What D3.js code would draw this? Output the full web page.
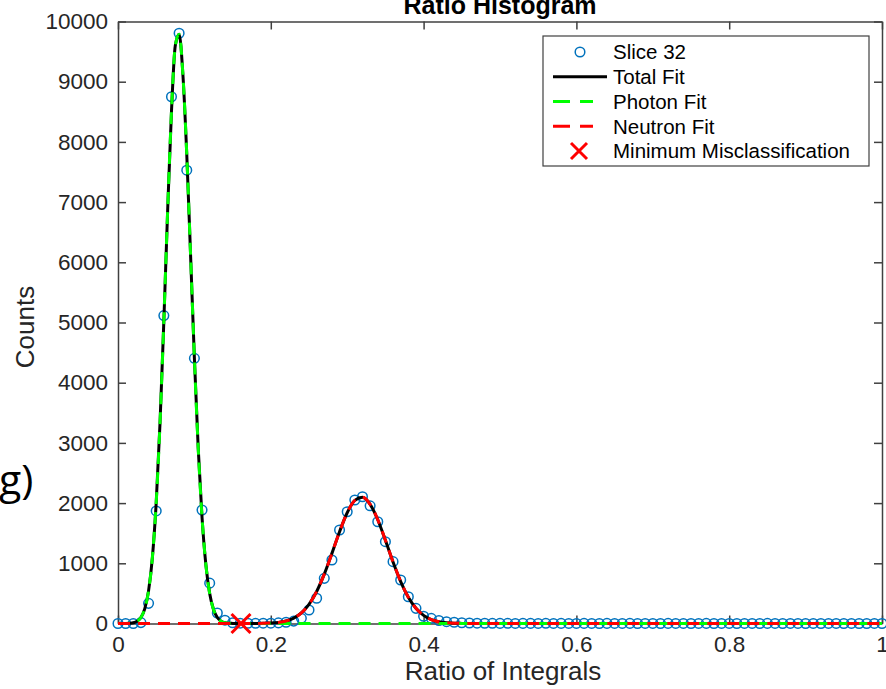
<!DOCTYPE html>
<html>
<head>
<meta charset="utf-8">
<script src="https://cdn.jsdelivr.net/npm/d3@7"></script>
<style>
  body { margin: 0; background: white; }
  svg { display: block; }
</style>
</head>
<body>
<div id="chart"></div>
<script>
var width = 886;
var height = 689;

// histogram bins (bin centres) and counts for slice 32
var binStep = 0.01;
var sliceCounts = [
    0, 0, 0, 15, 335, 1870, 5115, 8750, 9805, 7530,
    4405, 1885, 670, 175, 55, 12, 5, 4, 3, 5,
    5, 10, 20, 40, 86, 224, 419, 750, 1055, 1553,
    1857, 2051, 2106, 1955, 1691, 1359, 1027, 723, 445, 252,
    120, 86, 50, 30, 20, 12, 8, 5, 4, 3,
    2, 3, 1, 2, 2, 1, 3, 1, 2, 1,
    1, 2, 1, 0, 2, 1, 1, 2, 0, 1,
    1, 0, 2, 1, 1, 0, 1, 2, 0, 1,
    1, 0, 1, 1, 0, 2, 1, 0, 1, 1,
    0, 1, 0, 1, 1, 0, 1, 0, 0, 1,
    0
];
var binCenters = sliceCounts.map((d, i) => i * binStep);

// photon fit, read at 0.005 steps from 0 to 0.2
var photonStart = 0;
var photonStep = 0.005;
var photonFit = [
    0, 0, 1, 4, 12, 37, 99, 243, 542, 1096,
    2006, 3330, 5024, 6865, 8507, 9600, 9790, 9107, 7795, 6118,
    4403, 2908, 1761, 978, 498, 233, 100, 39, 14, 5,
    2, 1, 0, 0, 0, 0, 0, 0, 0, 0,
    0
];

// neutron fit, read at 0.01 steps from 0.15 to 0.5
var neutronStart = 0.15;
var neutronStep = 0.01;
var neutronFit = [
    0, 0, 0, 1, 3, 7, 18, 42, 89, 176,
    318, 532, 820, 1165, 1525, 1840, 2046, 2097, 1980, 1724,
    1382, 1022, 697, 437, 253, 135, 66, 30, 13, 5,
    2, 1, 0, 0, 0, 0
];

// minimum misclassification point
var minMisclass = [{x: 0.161, y: 0}];

var xTicks = [0, 0.2, 0.4, 0.6, 0.8, 1];
var yTicks = [0, 1000, 2000, 3000, 4000, 5000, 6000, 7000, 8000, 9000, 10000];

var legendLabels = ["Slice 32", "Total Fit", "Photon Fit", "Neutron Fit", "Minimum Misclassification"];

var plotLeft = 118;
var plotRight = 882;
var plotTop = 21.5;
var plotBottom = 623.5;

var axisColor = "#404040";
var textColor = "#262626";
var fontFamily = "'Liberation Sans', Arial, Helvetica, sans-serif";
var dash = "12,8";

var svg = d3.select("#chart")
    .append("svg")
    .attr("width", width)
    .attr("height", height);

var x = d3.scaleLinear().domain([0, 1]).range([plotLeft, plotRight]);
var y = d3.scaleLinear().domain([0, 10000]).range([plotBottom, plotTop]);

// fit points
var photonPts = photonFit.map((v, i) => ({x: photonStart + i * photonStep, y: v}));
photonPts.push({x: 1, y: 0});
var neutronPts = neutronFit.map((v, i) => ({x: neutronStart + i * neutronStep, y: v}));
neutronPts.unshift({x: 0, y: 0});
neutronPts.push({x: 1, y: 0});
var totalPts = photonPts.filter(d => d.x < 0.155)
    .concat(neutronPts.filter(d => d.x >= 0.155));

// axes
function styleAxis(g) {
    g.selectAll("path").attr("stroke", axisColor).attr("stroke-width", 1.5);
    g.selectAll("line").attr("stroke", axisColor).attr("stroke-width", 1.5);
    g.selectAll("text")
        .attr("fill", textColor)
        .style("font-family", fontFamily)
        .style("font-size", "22.5px");
}

svg.append("g")
    .attr("transform", "translate(0," + plotBottom + ")")
    .call(d3.axisBottom(x).tickValues(xTicks).tickFormat(d3.format("")).tickSizeInner(-8).tickSizeOuter(0).tickPadding(13))
    .call(styleAxis);

svg.append("g")
    .attr("transform", "translate(0," + plotTop + ")")
    .call(d3.axisTop(x).tickValues(xTicks).tickFormat("").tickSizeInner(-8).tickSizeOuter(0))
    .call(styleAxis);

svg.append("g")
    .attr("transform", "translate(" + plotLeft + ",0)")
    .call(d3.axisLeft(y).tickValues(yTicks).tickFormat(d3.format("d")).tickSizeInner(-8).tickSizeOuter(0).tickPadding(10))
    .call(styleAxis);

svg.append("g")
    .attr("transform", "translate(" + plotRight + ",0)")
    .call(d3.axisRight(y).tickValues(yTicks).tickFormat("").tickSizeInner(-8).tickSizeOuter(0))
    .call(styleAxis);

// data markers
svg.append("g")
    .selectAll("circle")
    .data(sliceCounts)
    .join("circle")
    .attr("cx", (d, i) => x(binCenters[i]))
    .attr("cy", d => y(d))
    .attr("r", 4.8)
    .attr("fill", "none")
    .attr("stroke", "#0072BD")
    .attr("stroke-width", 1.5);

var line = d3.line()
    .x(d => x(d.x))
    .y(d => y(d.y))
    .curve(d3.curveMonotoneX);

svg.append("path")
    .datum(totalPts)
    .attr("d", line)
    .attr("fill", "none")
    .attr("stroke", "black")
    .attr("stroke-width", 3);

svg.append("path")
    .datum(photonPts)
    .attr("d", line)
    .attr("fill", "none")
    .attr("stroke", "#00FF00")
    .attr("stroke-width", 3)
    .attr("stroke-dasharray", dash);

svg.append("path")
    .datum(neutronPts)
    .attr("d", line)
    .attr("fill", "none")
    .attr("stroke", "#FF0000")
    .attr("stroke-width", 3)
    .attr("stroke-dasharray", dash);

// minimum misclassification marker
var xm = 9.5;
svg.append("g")
    .selectAll("path")
    .data(minMisclass)
    .join("path")
    .attr("d", d => {
        var cx = x(d.x), cy = y(d.y);
        return "M" + (cx - xm) + "," + (cy - xm) + "L" + (cx + xm) + "," + (cy + xm) +
               "M" + (cx - xm) + "," + (cy + xm) + "L" + (cx + xm) + "," + (cy - xm);
    })
    .attr("stroke", "#FF0000")
    .attr("stroke-width", 3)
    .attr("fill", "none");

// titles
svg.append("text")
    .attr("x", (plotLeft + plotRight) / 2)
    .attr("y", 14)
    .style("text-anchor", "middle")
    .style("font-family", fontFamily)
    .style("font-weight", "bold")
    .style("font-size", "25px")
    .attr("fill", "black")
    .text("Ratio Histogram");

svg.append("text")
    .attr("x", 503)
    .attr("y", 680)
    .style("text-anchor", "middle")
    .style("font-family", fontFamily)
    .style("font-size", "26px")
    .attr("fill", textColor)
    .text("Ratio of Integrals");

svg.append("text")
    .attr("transform", "translate(34,327) rotate(-90)")
    .style("text-anchor", "middle")
    .style("font-family", fontFamily)
    .style("font-size", "26px")
    .attr("fill", textColor)
    .text("Counts");

svg.append("text")
    .attr("x", -1)
    .attr("y", 494)
    .style("font-family", "'Open Sans', 'Noto Sans', sans-serif")
    .style("font-size", "41px")
    .attr("fill", "black")
    .text("g)");

// legend
var legend = svg.append("g");
legend.append("rect")
    .attr("x", 543)
    .attr("y", 36)
    .attr("width", 326)
    .attr("height", 130)
    .attr("fill", "white")
    .attr("stroke", axisColor)
    .attr("stroke-width", 1.2);

var rowY = d3.scalePoint().domain(legendLabels).range([52, 151]);

legend.append("circle")
    .attr("cx", 580)
    .attr("cy", rowY(legendLabels[0]))
    .attr("r", 4.8)
    .attr("fill", "none")
    .attr("stroke", "#0072BD")
    .attr("stroke-width", 1.5);

legend.append("line")
    .attr("x1", 553).attr("x2", 607)
    .attr("y1", rowY(legendLabels[1])).attr("y2", rowY(legendLabels[1]))
    .attr("stroke", "black").attr("stroke-width", 3);

legend.append("line")
    .attr("x1", 553).attr("x2", 593)
    .attr("y1", rowY(legendLabels[2])).attr("y2", rowY(legendLabels[2]))
    .attr("stroke", "#00FF00").attr("stroke-width", 3)
    .attr("stroke-dasharray", "17,10");

legend.append("line")
    .attr("x1", 553).attr("x2", 593)
    .attr("y1", rowY(legendLabels[3])).attr("y2", rowY(legendLabels[3]))
    .attr("stroke", "#FF0000").attr("stroke-width", 3)
    .attr("stroke-dasharray", "17,10");

var ly = rowY(legendLabels[4]);
legend.append("path")
    .attr("d", "M571," + (ly - 8) + "L587," + (ly + 8) + "M571," + (ly + 8) + "L587," + (ly - 8))
    .attr("stroke", "#FF0000").attr("stroke-width", 3);

legend.selectAll("text")
    .data(legendLabels)
    .join("text")
    .attr("x", 613)
    .attr("y", d => rowY(d))
    .attr("dy", "0.36em")
    .style("font-family", fontFamily)
    .style("font-size", "20.5px")
    .attr("fill", "black")
    .text(d => d);
</script>
</body>
</html>
